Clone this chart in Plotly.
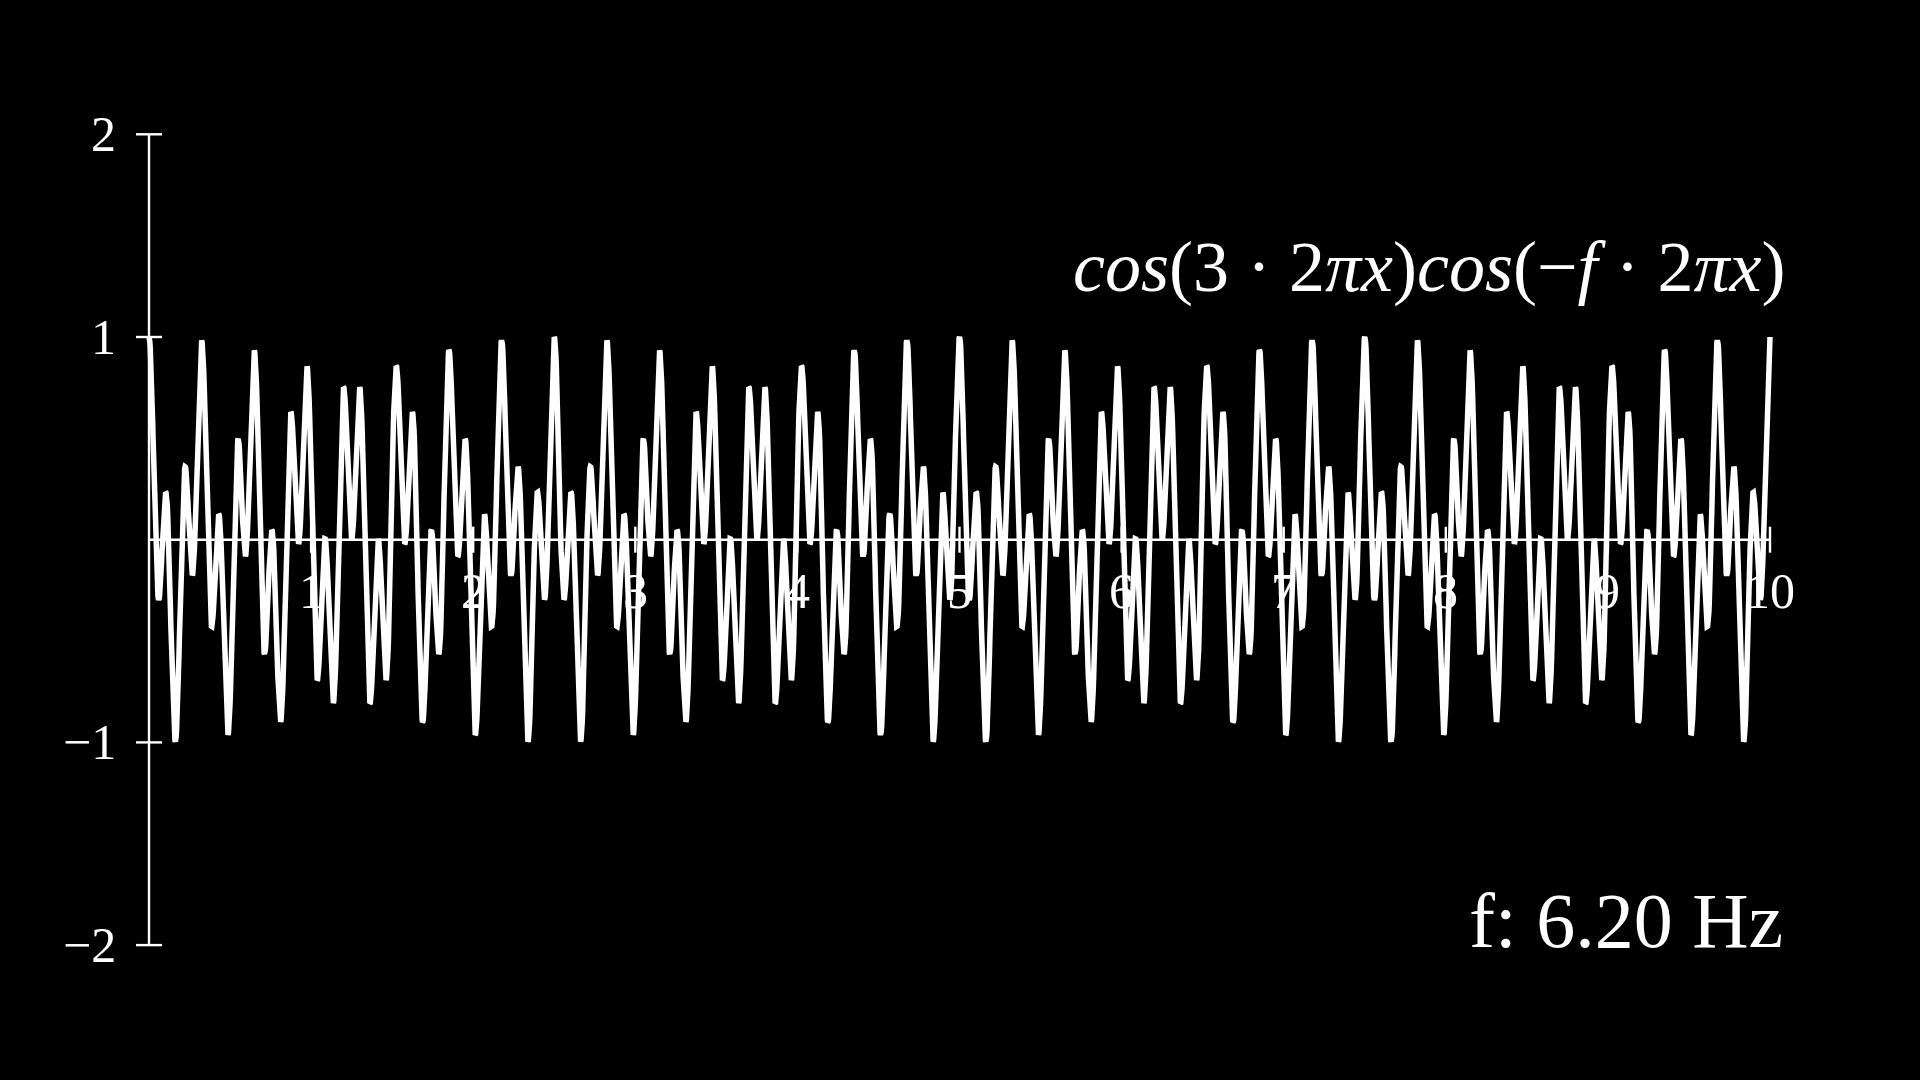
import numpy as np
import plotly.graph_objects as go

# ---- data / parameters ----
carrier_hz = 3.0          # cos(3 · 2πx)
f_hz = 6.20               # f shown on the chart: "f: 6.20 Hz"
x_start, x_end = 0.0, 10.0
x_ticks = [1, 2, 3, 4, 5, 6, 7, 8, 9, 10]
x_tick_labels = ["1", "2", "3", "4", "5", "6", "7", "8", "9", "10"]
y_ticks = [2, 1, -1, -2]
y_tick_labels = ["2", "1", "\u22121", "\u22122"]
freq_label = "f: 6.20 Hz"

# the plotted curve is the function printed on the chart
x = np.linspace(x_start, x_end, 4001)
y = np.cos(carrier_hz * 2 * np.pi * x) * np.cos(-f_hz * 2 * np.pi * x)

WHITE = "#ffffff"
SERIF = "Liberation Serif"

fig = go.Figure()
fig.add_trace(go.Scatter(x=x, y=y, mode="lines",
                         line=dict(color=WHITE, width=5.5),
                         hoverinfo="skip", showlegend=False))

shapes = []
axis_w = 2.4
shapes.append(dict(type="line", xref="x", yref="y", x0=0, x1=0, y0=-2, y1=2,
                   line=dict(color=WHITE, width=axis_w), layer="below"))
shapes.append(dict(type="line", xref="x", yref="y", x0=0, x1=10, y0=0, y1=0,
                   line=dict(color=WHITE, width=axis_w), layer="below"))
tick_dx = 13 / 162.1
tick_dy = 13 / 202.7
for yt in y_ticks:
    shapes.append(dict(type="line", xref="x", yref="y", x0=-tick_dx, x1=tick_dx,
                       y0=yt, y1=yt, line=dict(color=WHITE, width=axis_w), layer="below"))
for xt in x_ticks:
    shapes.append(dict(type="line", xref="x", yref="y", x0=xt, x1=xt,
                       y0=-tick_dy, y1=tick_dy, line=dict(color=WHITE, width=axis_w), layer="below"))

annotations = []
for xt, lab in zip(x_ticks, x_tick_labels):
    annotations.append(dict(x=xt, y=-0.253, xref="x", yref="y", text=lab,
                            showarrow=False, xanchor="center", yanchor="middle",
                            font=dict(family=SERIF, size=50, color=WHITE)))
for yt, lab in zip(y_ticks, y_tick_labels):
    annotations.append(dict(x=-0.19, y=yt, xref="x", yref="y", text=lab,
                            showarrow=False, xanchor="right", yanchor="middle",
                            font=dict(family=SERIF, size=50, color=WHITE)))

formula_html = ("<i>cos</i>(3 · 2<i>πx</i>)<i>cos</i>(−<i>f</i> · 2<i>πx</i>)")
annotations.append(dict(x=10.11, y=1.345, xref="x", yref="y", text=formula_html,
                        showarrow=False, xanchor="right", yanchor="middle",
                        font=dict(family=SERIF, size=72, color=WHITE)))
annotations.append(dict(x=10.09, y=-1.881, xref="x", yref="y", text=freq_label,
                        showarrow=False, xanchor="right", yanchor="middle",
                        font=dict(family=SERIF, size=78, color=WHITE)))

px_per_x = 162.1
px_per_y = 202.7
x0_px = 149.0
y0_px = 539.7
fig.update_layout(
    width=1920, height=1080,
    margin=dict(l=0, r=0, t=0, b=0),
    paper_bgcolor="#000000", plot_bgcolor="#000000",
    xaxis=dict(range=[-x0_px / px_per_x, (1920 - x0_px) / px_per_x],
               visible=False, fixedrange=True),
    yaxis=dict(range=[-(1080 - y0_px) / px_per_y, y0_px / px_per_y],
               visible=False, fixedrange=True),
    shapes=shapes, annotations=annotations, showlegend=False,
)
fig.write_html("out.html")
